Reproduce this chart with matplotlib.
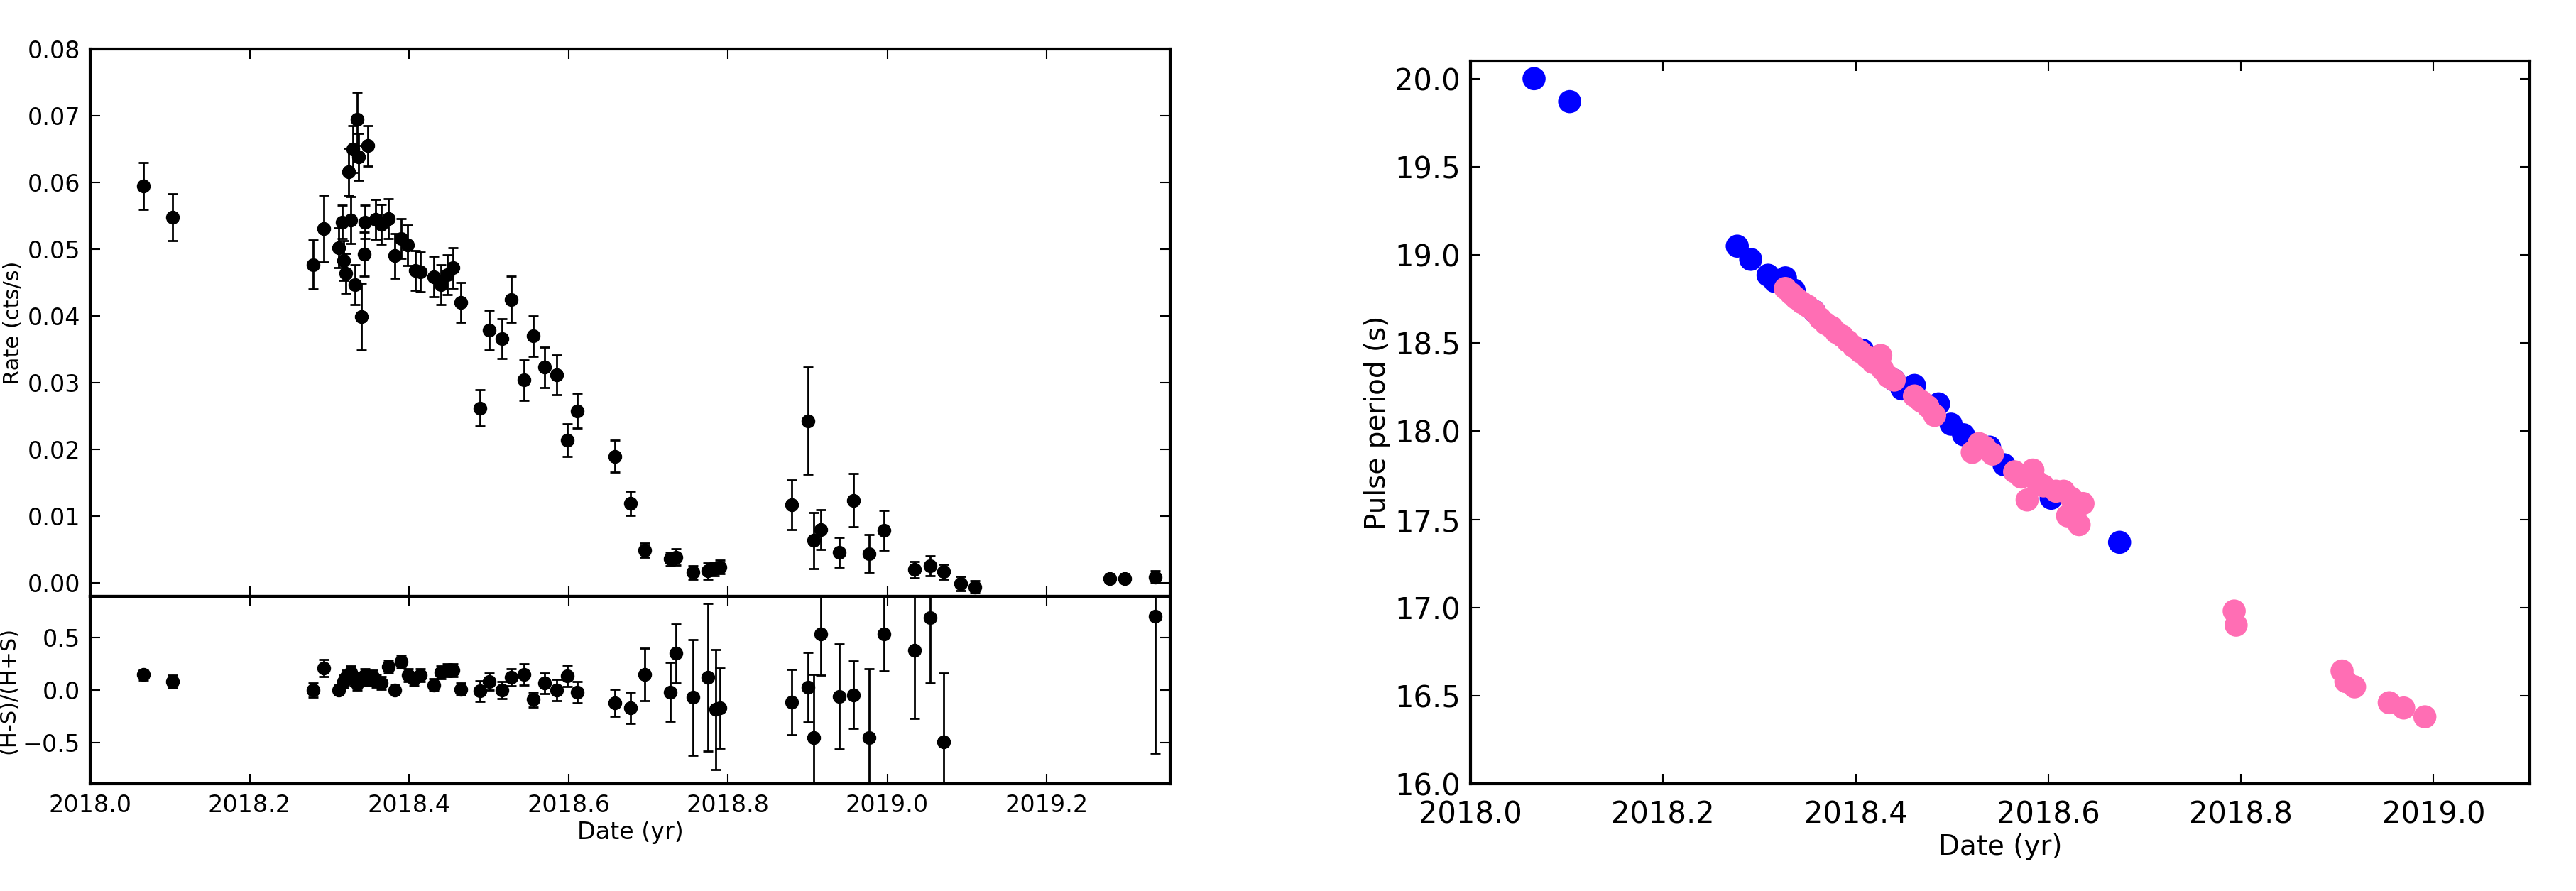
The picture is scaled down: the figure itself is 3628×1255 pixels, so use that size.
import matplotlib
matplotlib.use("Agg")
import matplotlib.pyplot as plt
import numpy as np

# Rate (top-left)
rate_t = [2018.067,2018.103,2018.280,2018.293,2018.312,2018.316,2018.318,2018.321,2018.324,2018.327,
          2018.330,2018.332,2018.335,2018.337,2018.340,2018.344,2018.345,2018.348,2018.358,2018.365,
          2018.374,2018.382,2018.390,2018.398,2018.408,2018.414,2018.431,2018.440,2018.448,2018.455,
          2018.465,2018.489,2018.501,2018.517,2018.528,2018.544,2018.556,2018.570,2018.585,2018.599,
          2018.611,2018.658,2018.678,2018.696,2018.728,2018.735,2018.756,2018.775,2018.783,2018.790,
          2018.880,2018.901,2018.908,2018.917,2018.940,2018.958,2018.977,2018.996,2019.034,2019.054,
          2019.071,2019.092,2019.110,2019.279,2019.298,2019.336]
rate = [0.0595,0.0548,0.0477,0.0531,0.0502,0.0541,0.0483,0.0464,0.0616,0.0544,
        0.0650,0.0447,0.0695,0.0638,0.0399,0.0493,0.0541,0.0655,0.0545,0.0537,
        0.0546,0.0490,0.0516,0.0506,0.0468,0.0466,0.0459,0.0447,0.0462,0.0472,
        0.0420,0.0262,0.0379,0.0366,0.0425,0.0304,0.0370,0.0323,0.0312,0.0214,
        0.0258,0.0190,0.0119,0.0049,0.0036,0.0039,0.0016,0.0018,0.0021,0.0024,
        0.0117,0.0243,0.0064,0.0080,0.0046,0.0124,0.0044,0.0079,0.0020,0.0026,
        0.0017,-0.0001,-0.0006,0.0007,0.0007,0.0009]
rate_err = [0.0035,0.0035,0.0037,0.0050,0.0030,0.0025,0.0030,0.0030,0.0035,0.0035,
            0.0035,0.0030,0.0040,0.0035,0.0050,0.0033,0.0025,0.0030,0.0030,0.0030,
            0.0030,0.0033,0.0030,0.0030,0.0030,0.0030,0.0030,0.0030,0.0030,0.0030,
            0.0030,0.0027,0.0030,0.0030,0.0035,0.0030,0.0030,0.0030,0.0030,0.0024,
            0.0026,0.0024,0.0018,0.0011,0.0010,0.0012,0.0010,0.0012,0.0010,0.0010,
            0.0037,0.0080,0.0042,0.0030,0.0022,0.0040,0.0028,0.0030,0.0012,0.0015,
            0.0011,0.0011,0.0009,0.0007,0.0007,0.0009]

# Hardness ratio (bottom-left)
hr_t = [2018.067,2018.103,2018.280,2018.293,2018.312,2018.318,2018.322,2018.327,2018.331,2018.335,
        2018.340,2018.345,2018.349,2018.355,2018.359,2018.365,2018.374,2018.382,2018.390,2018.399,
        2018.406,2018.414,2018.431,2018.440,2018.448,2018.455,2018.465,2018.489,2018.501,2018.517,
        2018.528,2018.544,2018.556,2018.570,2018.585,2018.599,2018.611,2018.658,2018.678,2018.696,
        2018.728,2018.735,2018.756,2018.775,2018.785,2018.790,2018.880,2018.901,2018.908,2018.917,
        2018.940,2018.958,2018.977,2018.996,2019.034,2019.054,2019.071,2019.336]
hr = [0.145,0.08,0.0,0.21,0.0,0.08,0.13,0.17,0.10,0.06,
      0.10,0.14,0.10,0.13,0.09,0.07,0.22,0.0,0.27,0.14,
      0.10,0.14,0.05,0.17,0.19,0.19,0.01,-0.01,0.08,0.0,
      0.12,0.15,-0.09,0.065,0.0,0.135,-0.02,-0.12,-0.17,0.15,
      -0.02,0.35,-0.07,0.12,-0.185,-0.17,-0.115,0.025,-0.455,0.53,
      -0.06,-0.045,-0.455,0.535,0.38,0.685,-0.49,0.70]
hr_err = [0.05,0.06,0.07,0.08,0.05,0.06,0.06,0.06,0.06,0.06,
          0.06,0.06,0.06,0.06,0.06,0.06,0.06,0.05,0.06,0.06,
          0.06,0.06,0.06,0.06,0.06,0.06,0.06,0.10,0.08,0.08,
          0.08,0.10,0.07,0.10,0.10,0.10,0.10,0.13,0.15,0.25,
          0.28,0.28,0.55,0.70,0.57,0.38,0.31,0.33,0.60,0.39,
          0.50,0.32,0.66,0.35,0.65,0.62,0.65,1.30]

# Pulse period (right)
blue_t = [2018.066,2018.103,2018.277,2018.291,2018.309,2018.316,2018.327,2018.336,2018.357,2018.407,
          2018.440,2018.448,2018.461,2018.486,2018.499,2018.512,2018.539,2018.554,2018.603,2018.674]
blue_p = [20.00,19.87,19.05,18.975,18.885,18.85,18.87,18.80,18.68,18.46,
          18.29,18.24,18.26,18.155,18.04,17.98,17.91,17.81,17.62,17.37]
pink_t = [2018.327,2018.333,2018.338,2018.344,2018.350,2018.357,2018.363,2018.369,2018.375,2018.380,
          2018.386,2018.392,2018.398,2018.405,2018.412,2018.418,2018.426,2018.428,2018.434,2018.440,
          2018.461,2018.468,2018.475,2018.482,2018.521,2018.528,2018.534,2018.542,2018.565,2018.572,
          2018.578,2018.584,2018.589,2018.595,2018.608,2018.616,2018.620,2018.624,2018.628,2018.632,
          2018.636,2018.793,2018.795,2018.905,2018.909,2018.918,2018.954,2018.969,2018.991]
pink_p = [18.81,18.78,18.755,18.73,18.71,18.68,18.64,18.61,18.59,18.56,
          18.54,18.51,18.48,18.45,18.42,18.39,18.43,18.35,18.31,18.29,
          18.20,18.17,18.14,18.09,17.88,17.93,17.91,17.87,17.77,17.74,
          17.61,17.78,17.71,17.69,17.66,17.66,17.52,17.62,17.58,17.47,
          17.59,16.98,16.90,16.64,16.58,16.55,16.46,16.43,16.38]

plt.rcParams['font.family'] = ['Liberation Sans Narrow', 'DejaVu Sans']
W, H = 3628, 1255
fig = plt.figure(figsize=(W/100, H/100), dpi=100)

def px(x0, y0, x1, y1):
    return [x0/W, 1-y1/H, (x1-x0)/W, (y1-y0)/H]

ax1 = fig.add_axes(px(127, 69, 1648, 840))
ax2 = fig.add_axes(px(127, 840, 1648, 1104), sharex=ax1)
ax3 = fig.add_axes(px(2071, 86, 3563, 1104))

ekw = dict(fmt='o', color='black', ms=13, elinewidth=2, capsize=5, capthick=2)
ax1.errorbar(rate_t, rate, yerr=rate_err, **ekw)
ax2.errorbar(hr_t, hr, yerr=hr_err, **ekw)
ax1.set_xlim(2018.0, 2019.355)
ax1.set_ylim(-0.002, 0.08)
ax2.set_ylim(-0.89, 0.89)
ax1.set_yticks(np.arange(0, 0.081, 0.01))
ax1.set_yticklabels([f"{v:.2f}" for v in np.arange(0, 0.081, 0.01)])
ax2.set_yticks([-0.5, 0.0, 0.5])
ax2.set_xticks(np.arange(2018.0, 2019.21, 0.2))
ax2.set_xticklabels([f"{v:.1f}" for v in np.arange(2018.0, 2019.21, 0.2)])
plt.setp(ax1.get_xticklabels(), visible=False)
ax1.set_ylabel("Rate (cts/s)", fontsize=22, family='DejaVu Sans')
ax2.set_ylabel("(H-S)/(H+S)", fontsize=22, family='DejaVu Sans')
ax2.set_xlabel("Date (yr)", fontsize=24)

ax3.scatter(blue_t, blue_p, s=550, color='#0000ff', edgecolors='none', zorder=2)
ax3.scatter(pink_t, pink_p, s=550, color='#ff6eb4', edgecolors='none', zorder=3)
ax3.set_xlim(2018.0, 2019.1)
ax3.set_ylim(16.0, 20.1)
ax3.set_xticks(np.arange(2018.0, 2019.01, 0.2))
ax3.set_xticklabels([f"{v:.1f}" for v in np.arange(2018.0, 2019.01, 0.2)])
ax3.set_yticks(np.arange(16.0, 20.01, 0.5))
ax3.set_yticklabels([f"{v:.1f}" for v in np.arange(16.0, 20.01, 0.5)])
ax3.set_ylabel("Pulse period (s)", fontsize=28, family='DejaVu Sans')
ax3.set_xlabel("Date (yr)", fontsize=28)

for ax, fs in ((ax1, 24), (ax2, 24), (ax3, 30)):
    ax.tick_params(direction='in', top=True, right=True, length=10, width=1.5, labelsize=fs, pad=10)
    for s in ax.spines.values():
        s.set_linewidth(3)
ax3.tick_params(axis='x', pad=16)

fig.savefig("out.png", dpi=100)
